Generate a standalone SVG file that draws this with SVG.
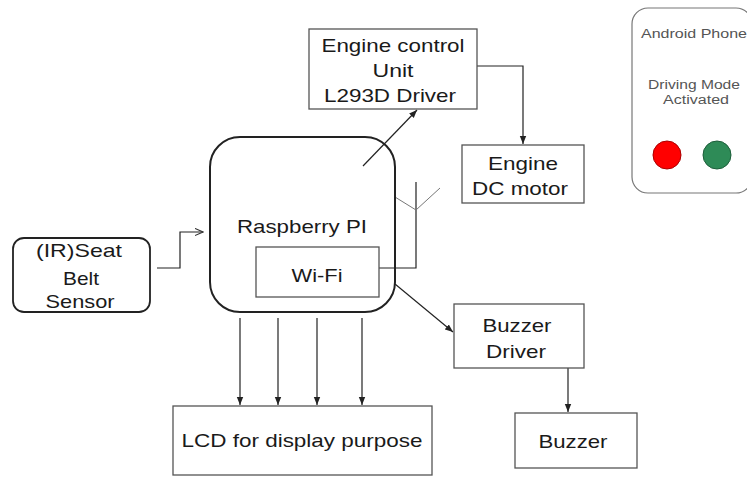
<svg xmlns="http://www.w3.org/2000/svg" width="747" height="477" viewBox="0 0 747 477">
<defs>
<marker id="ah" viewBox="0 0 10 10" refX="10" refY="5" markerWidth="8" markerHeight="8" markerUnits="userSpaceOnUse" orient="auto">
<path d="M0,1 L10,5 L0,9 z" fill="#222"/>
</marker>
<marker id="oh" viewBox="0 0 10 10" refX="9" refY="5" markerWidth="9" markerHeight="9" markerUnits="userSpaceOnUse" orient="auto">
<path d="M0,1 L9,5 L0,9" fill="none" stroke="#333" stroke-width="1.2"/>
</marker>
</defs>
<style>
.box{fill:#fff;stroke:#555;stroke-width:1.3}
.t{font-family:"Liberation Sans",Arial,sans-serif;font-size:19px;fill:#1a1a1a;text-anchor:middle}
.s{font-family:"Liberation Sans",Arial,sans-serif;font-size:12px;fill:#555;text-anchor:middle}
.c{fill:none;stroke:#222;stroke-width:1.2}
.g{fill:none;stroke:#777;stroke-width:1}
</style>
<rect width="747" height="477" fill="#fff"/>
<g id="connectors">
<polyline class="c" points="157,268 180,268 180,232 203,232" marker-end="url(#oh)"/>
<line class="c" x1="363" y1="166" x2="417" y2="110" marker-end="url(#ah)"/>
<polyline class="c" points="477,66 523,66 523,144" marker-end="url(#ah)"/>
<line class="c" x1="395" y1="284" x2="453" y2="332" marker-end="url(#ah)"/>
<line class="c" x1="568" y1="368" x2="568" y2="412" marker-end="url(#ah)"/>
<line class="c" x1="240" y1="318" x2="240" y2="405" marker-end="url(#ah)"/>
<line class="c" x1="278" y1="318" x2="278" y2="405" marker-end="url(#ah)"/>
<line class="c" x1="317" y1="318" x2="317" y2="405" marker-end="url(#ah)"/>
<line class="c" x1="362" y1="318" x2="362" y2="405" marker-end="url(#ah)"/>
<polyline class="c" points="379,268 416,268 416,182"/>
<polyline class="g" points="395,197 416,210 440,188"/>
</g>
<g id="engine-control">
<rect class="box" x="309" y="29" width="168" height="80"/>
<text class="t" x="393" y="52" textLength="143" lengthAdjust="spacingAndGlyphs">Engine control</text>
<text class="t" x="393" y="77" textLength="41" lengthAdjust="spacingAndGlyphs">Unit</text>
<text class="t" x="390" y="102" textLength="132" lengthAdjust="spacingAndGlyphs">L293D Driver</text>
</g>
<g id="engine-motor">
<rect class="box" x="462" y="145" width="122" height="58"/>
<text class="t" x="523" y="170" textLength="70" lengthAdjust="spacingAndGlyphs">Engine</text>
<text class="t" x="520" y="195" textLength="96" lengthAdjust="spacingAndGlyphs">DC motor</text>
</g>
<g id="raspberry-pi">
<rect x="210" y="137" width="185" height="175" rx="30" ry="30" fill="none" stroke="#222" stroke-width="2"/>
<text class="t" x="302" y="233" textLength="130" lengthAdjust="spacingAndGlyphs">Raspberry PI</text>
</g>
<g id="wifi">
<rect class="box" x="256" y="247" width="123" height="50"/>
<text class="t" x="317" y="282" textLength="51" lengthAdjust="spacingAndGlyphs">Wi-Fi</text>
</g>
<g id="seat-belt">
<rect x="13" y="238" width="137" height="74" rx="11" ry="11" fill="#fff" stroke="#222" stroke-width="1.8"/>
<text class="t" x="79" y="257" textLength="86" lengthAdjust="spacingAndGlyphs">(IR)Seat</text>
<text class="t" x="81" y="285" textLength="36" lengthAdjust="spacingAndGlyphs">Belt</text>
<text class="t" x="80" y="308" textLength="69" lengthAdjust="spacingAndGlyphs">Sensor</text>
</g>
<g id="lcd">
<rect class="box" x="173" y="406" width="259" height="69"/>
<text class="t" x="302" y="447" textLength="241" lengthAdjust="spacingAndGlyphs">LCD for display purpose</text>
</g>
<g id="buzzer-driver">
<rect class="box" x="454" y="304" width="130" height="64"/>
<text class="t" x="517" y="332" textLength="69" lengthAdjust="spacingAndGlyphs">Buzzer</text>
<text class="t" x="516" y="358" textLength="60" lengthAdjust="spacingAndGlyphs">Driver</text>
</g>
<g id="buzzer">
<rect class="box" x="515" y="413" width="122" height="55"/>
<text class="t" x="573" y="448" textLength="69" lengthAdjust="spacingAndGlyphs">Buzzer</text>
</g>
<g id="android-phone">
<rect x="632" y="8" width="120" height="185" rx="16" ry="16" fill="#fff" stroke="#777" stroke-width="1.2"/>
<text class="s" x="694" y="38" textLength="106" lengthAdjust="spacingAndGlyphs">Android Phone</text>
<text class="s" x="694" y="89" textLength="92" lengthAdjust="spacingAndGlyphs">Driving Mode</text>
<text class="s" x="696" y="104" textLength="66" lengthAdjust="spacingAndGlyphs">Activated</text>
<circle cx="667" cy="155" r="14" fill="#f00" stroke="#a00" stroke-width="1"/>
<circle cx="717" cy="155" r="14" fill="#2e8b57" stroke="#1d5e3a" stroke-width="1"/>
</g>
</svg>
